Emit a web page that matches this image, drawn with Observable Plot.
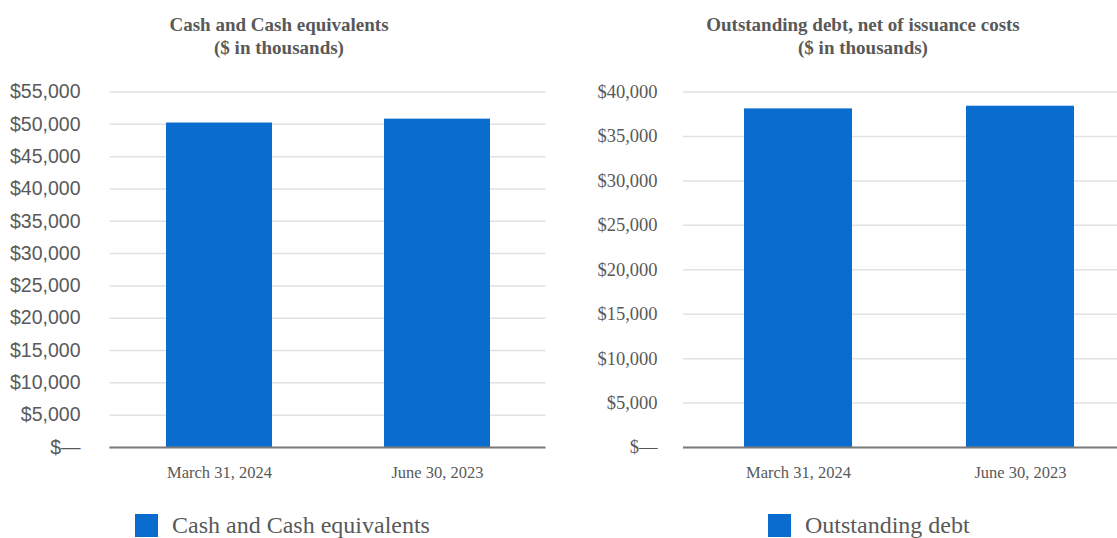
<!DOCTYPE html>
<html>
<head>
<meta charset="utf-8">
<script src="https://cdn.jsdelivr.net/npm/d3@7"></script>
<script src="https://cdn.jsdelivr.net/npm/@observablehq/plot@0.6"></script>
<style>
  html, body { margin: 0; padding: 0; background: #fff; overflow: hidden; }
  #wrap { position: relative; width: 1117px; height: 538px; overflow: hidden; }
  .title { position: absolute; width: 600px; text-align: center; font-family: "Liberation Serif", serif;
           font-weight: bold; font-size: 19px; line-height: 23px; color: #595959; }
  .chart { position: absolute; top: 60px; }
  .chart svg { max-width: none !important; }
  .legend { position: absolute; top: 513px; display: flex; align-items: center;
            font-family: "Liberation Serif", serif; font-size: 24px; line-height: 25px; color: #595959; }
  .legend .sw { width: 23px; height: 23px; margin-right: 14px; }
</style>
</head>
<body>
<div id="wrap">
  <div class="title" id="t1" style="left:-21px; top:13px;"></div>
  <div class="title" id="t2" style="left:563px; top:13px;"></div>
  <div class="chart" id="c1" style="left:0px; width:560px;"></div>
  <div class="chart" id="c2" style="left:560px; width:590px;"></div>
  <div class="legend" id="l1" style="left:135px;"></div>
  <div class="legend" id="l2" style="left:768px;"></div>
</div>
<script>
const categories = ["March 31, 2024", "June 30, 2023"];
const cashValues = [50200, 50800];
const debtValues = [38100, 38400];
const cashTicks = [0, 5000, 10000, 15000, 20000, 25000, 30000, 35000, 40000, 45000, 50000, 55000];
const debtTicks = [0, 5000, 10000, 15000, 20000, 25000, 30000, 35000, 40000];
const titles = [["Cash and Cash equivalents", "($ in thousands)"], ["Outstanding debt, net of issuance costs", "($ in thousands)"]];
const legendLabels = ["Cash and Cash equivalents", "Outstanding debt"];
const barColor = "#0a6ccf";
const textColor = "#595959";

const fmt = d => d === 0 ? "$\u2014" : "$" + d3.format(",")(d);

function makeChart({values, ticks, width, marginLeft, marginRight, paddingOuter, yFont, tickPad}) {
  const data = categories.map((c, i) => ({category: c, value: values[i]}));
  return Plot.plot({
    width, height: 430,
    marginTop: 31.5, marginBottom: 43, marginLeft, marginRight,
    style: {maxWidth: "none"},
    x: {domain: categories, paddingInner: 0.514, paddingOuter, label: null},
    y: {domain: [0, ticks[ticks.length - 1]], label: null},
    marks: [
      Plot.gridY(ticks, {stroke: "#e2e2e2", strokeOpacity: 1, strokeWidth: 1.5}),
      Plot.barY(data, {x: "category", y: "value", fill: barColor}),
      Plot.ruleY([0], {stroke: "#7a7a7a", strokeWidth: 2}),
      Plot.axisY(ticks, {tickSize: 0, tickPadding: tickPad, tickFormat: fmt, fontFamily: yFont.family, fontSize: yFont.size, fill: textColor, label: null}),
      Plot.axisX({tickSize: 0, tickPadding: 19, fontFamily: "Liberation Serif", fontSize: 16.5, fill: textColor, label: null})
    ]
  });
}

document.getElementById("c1").append(makeChart({
  values: cashValues, ticks: cashTicks, width: 560, marginLeft: 109.5, marginRight: 14.5,
  paddingOuter: 0.257, yFont: {family: "Liberation Sans", size: 19.5}, tickPad: 29.5
}));
document.getElementById("c2").append(makeChart({
  values: debtValues, ticks: debtTicks, width: 590, marginLeft: 123, marginRight: 15,
  paddingOuter: 0.275, yFont: {family: "Liberation Serif", size: 18.5}, tickPad: 26
}));

["t1", "t2"].forEach((id, i) => {
  const el = document.getElementById(id);
  titles[i].forEach(line => { const d = document.createElement("div"); d.textContent = line; el.append(d); });
});
["l1", "l2"].forEach((id, i) => {
  const el = document.getElementById(id);
  const sw = document.createElement("span"); sw.className = "sw"; sw.style.background = barColor;
  const tx = document.createElement("span"); tx.textContent = legendLabels[i];
  el.append(sw, tx);
});
</script>
</body>
</html>
